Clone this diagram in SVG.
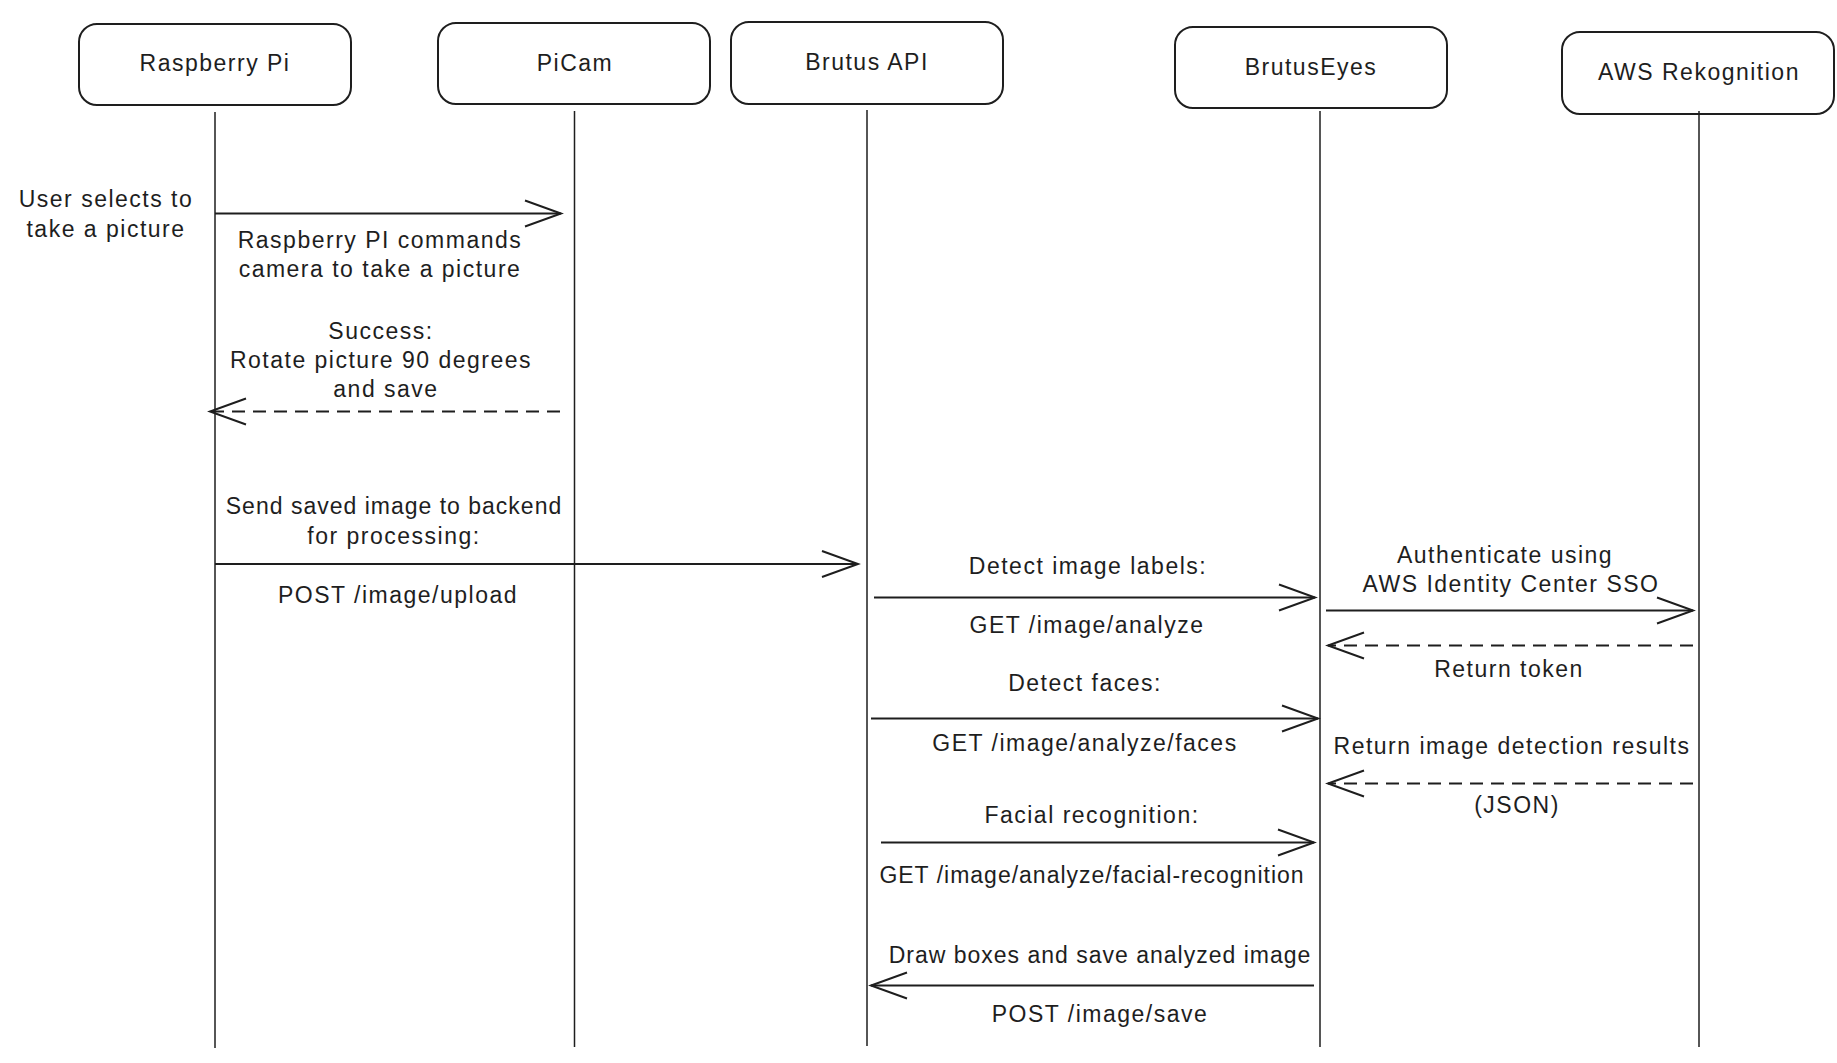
<svg xmlns="http://www.w3.org/2000/svg" width="1837" height="1063" viewBox="0 0 1837 1063">
<defs>
<style>
.box{fill:#ffffff;stroke:#1e1e1e;stroke-width:2}
.life{stroke:#1e1e1e;stroke-width:1.5;fill:none}
.msg{stroke:#1e1e1e;stroke-width:2;fill:none;marker-end:url(#head)}
.ret{stroke:#1e1e1e;stroke-width:2;fill:none;stroke-dasharray:13 8;marker-end:url(#head)}
text{font-family:"Liberation Sans",Arial,sans-serif;font-size:23px;fill:#1e1e1e;text-anchor:middle;letter-spacing:1.5px}
text.tight{letter-spacing:1px}
</style>
<marker id="head" markerUnits="userSpaceOnUse" markerWidth="40" markerHeight="30" refX="36" refY="13" orient="auto" overflow="visible">
<path d="M0,0 L36,13 L0,26" fill="none" stroke="#1e1e1e" stroke-width="2" stroke-dasharray="none"/>
</marker>
</defs>
<rect width="1837" height="1063" fill="#ffffff"/>

<g id="node-raspberry-pi">
<rect class="box" x="79" y="24" width="272" height="81" rx="18"/>
<text x="215" y="71">Raspberry Pi</text>
<line class="life" x1="215" y1="112" x2="215" y2="1048"/>
</g>
<g id="node-picam">
<rect class="box" x="438" y="23" width="272" height="81" rx="18"/>
<text x="575" y="71">PiCam</text>
<line class="life" x1="574.5" y1="111" x2="574.5" y2="1047"/>
</g>
<g id="node-brutus-api">
<rect class="box" x="731" y="22" width="272" height="82" rx="18"/>
<text x="867" y="70">Brutus API</text>
<line class="life" x1="867" y1="110" x2="867" y2="1046"/>
</g>
<g id="node-brutuseyes">
<rect class="box" x="1175" y="27" width="272" height="81" rx="18"/>
<text x="1311" y="75">BrutusEyes</text>
<line class="life" x1="1320" y1="111" x2="1320" y2="1047"/>
</g>
<g id="node-aws-rekognition">
<rect class="box" x="1562" y="32" width="272" height="82" rx="18"/>
<text x="1699" y="80">AWS Rekognition</text>
<line class="life" x1="1699" y1="111" x2="1699" y2="1047"/>
</g>

<g id="connectors">
<line class="msg" x1="215" y1="213.5" x2="561" y2="213.5"/>
<line class="ret" x1="560" y1="411.5" x2="210" y2="411.5"/>
<line class="msg" x1="215" y1="564" x2="858" y2="564"/>
<line class="msg" x1="874" y1="597.5" x2="1315" y2="597.5"/>
<line class="msg" x1="1326" y1="610.5" x2="1693" y2="610.5"/>
<line class="ret" x1="1693" y1="645.5" x2="1328" y2="645.5"/>
<line class="msg" x1="871" y1="718.5" x2="1318" y2="718.5"/>
<line class="ret" x1="1693" y1="783.5" x2="1328" y2="783.5"/>
<line class="msg" x1="881" y1="842.5" x2="1314" y2="842.5"/>
<line class="msg" x1="1314" y1="985.5" x2="871" y2="985.5"/>
</g>

<g id="labels">
<text x="106" y="207">User selects to</text>
<text x="106" y="237">take a picture</text>
<text x="380" y="248">Raspberry PI commands</text>
<text x="380" y="277">camera to take a picture</text>
<text x="381" y="339">Success:</text>
<text x="381" y="368">Rotate picture 90 degrees</text>
<text x="386" y="397">and save</text>
<text class="tight" x="394" y="514">Send saved image to backend</text>
<text x="394" y="544">for processing:</text>
<text x="398" y="603">POST /image/upload</text>
<text x="1088" y="574">Detect image labels:</text>
<text x="1087" y="633">GET /image/analyze</text>
<text x="1505" y="563">Authenticate using</text>
<text x="1511" y="592">AWS Identity Center SSO</text>
<text x="1509" y="677">Return token</text>
<text x="1085" y="691">Detect faces:</text>
<text x="1085" y="751">GET /image/analyze/faces</text>
<text x="1512" y="754">Return image detection results</text>
<text x="1517" y="813">(JSON)</text>
<text x="1092" y="823">Facial recognition:</text>
<text class="tight" x="1092" y="883">GET /image/analyze/facial-recognition</text>
<text class="tight" x="1100" y="963">Draw boxes and save analyzed image</text>
<text x="1100" y="1022">POST /image/save</text>
</g>
</svg>
